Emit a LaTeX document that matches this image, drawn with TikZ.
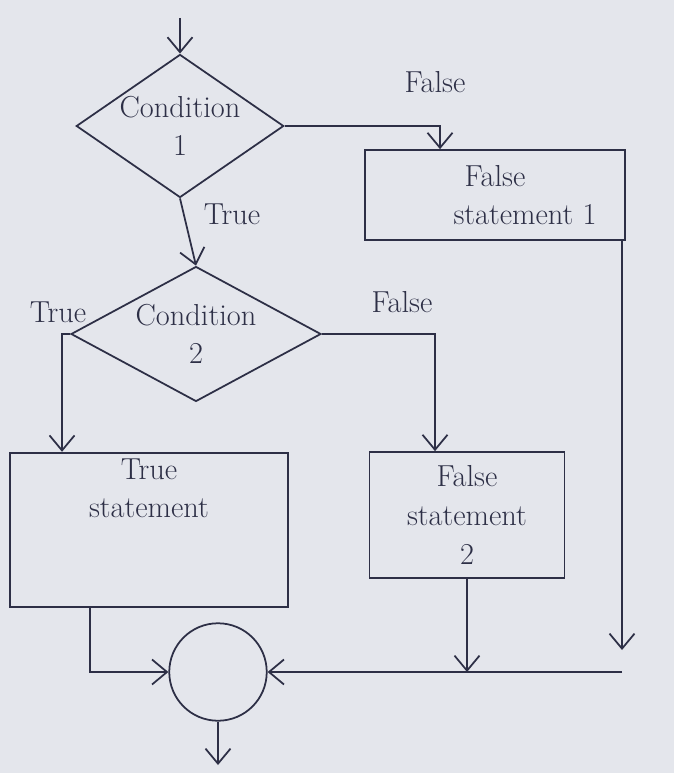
\documentclass[tikz,border=0pt]{standalone}
\usepackage{tikz}
\usepackage{xcolor}
\usetikzlibrary{positioning,arrows.meta,shapes,calc,backgrounds}

\definecolor{paper}{RGB}{228,230,236}
\definecolor{ink}{RGB}{45,47,70}

\begin{document}
\begin{tikzpicture}[x=0.02cm, y=-0.02cm,
    every node/.style={text=ink, font=\LARGE},
    cond/.style={diamond, draw=ink, line width=1pt, inner sep=0pt, align=center},
    box/.style={rectangle, draw=ink, line width=1pt, align=center},
    arr/.style={draw=ink, line width=1pt, -{Straight Barb[length=3mm,width=5mm]}},
    conn/.style={draw=ink, line width=1pt}]
        % paper
        \fill[paper] (0,0) rectangle (674,773);

        % decisions
        \node[cond, minimum width=4.12cm, minimum height=2.84cm, aspect=1.45] (c1) at (180,126) {Condition\\1};
        \node[cond, minimum width=5cm, minimum height=2.7cm, aspect=1.85] (c2) at (196,334) {Condition\\2};

        % statements
        \node[box, minimum width=5.2cm, minimum height=1.8cm] (f1) at (495,195) {False\\\hspace*{1.2cm}statement 1};
        \node[box, minimum width=5.56cm, minimum height=2.6cm] (t) at (149,530) {True\\statement\\[0.9cm]};
        \node[box, minimum width=3.9cm, minimum height=2.52cm] (f2) at (467,515) {False\\statement\\2};

        % join
        \node[circle, draw=ink, line width=1pt, minimum size=1.95cm] (j) at (218,672) {};

        % free ends
        \coordinate (start) at (180,18);
        \coordinate (stop) at (218,765);
        \coordinate (r1) at (622,650);
        \coordinate (r2) at (622,672);

        % labels
        \node (lf1) at (435,82) {False};
        \node (lt1) at (232,214) {True};
        \node (lf2) at (402,302) {False};
        \node (lt2) at (58,312) {True};

        % connectors
        \draw[arr] (start) -- (c1.north);
        \draw[arr] (c1.east) -| ([xshift=-1.1cm]f1.north);
        \draw[arr] (c1.south) -- (c2.north);
        \draw[arr] (c2.east) -| ([xshift=-0.64cm]f2.north);
        \draw[arr] (c2.west) -| ([xshift=-1.74cm]t.north);
        \draw[arr] ([xshift=2.54cm]f1.south) -- (r1);
        \draw[arr] (f2.south) -- (f2.south |- r2);
        \draw[conn] (r2) -- (f2.south |- r2);
        \draw[arr] (f2.south |- r2) -- (j.east);
        \draw[arr] ([xshift=-1.18cm]t.south) |- (j.west);
        \draw[arr] (j.south) -- (stop);
    \end{tikzpicture}
\end{document}
